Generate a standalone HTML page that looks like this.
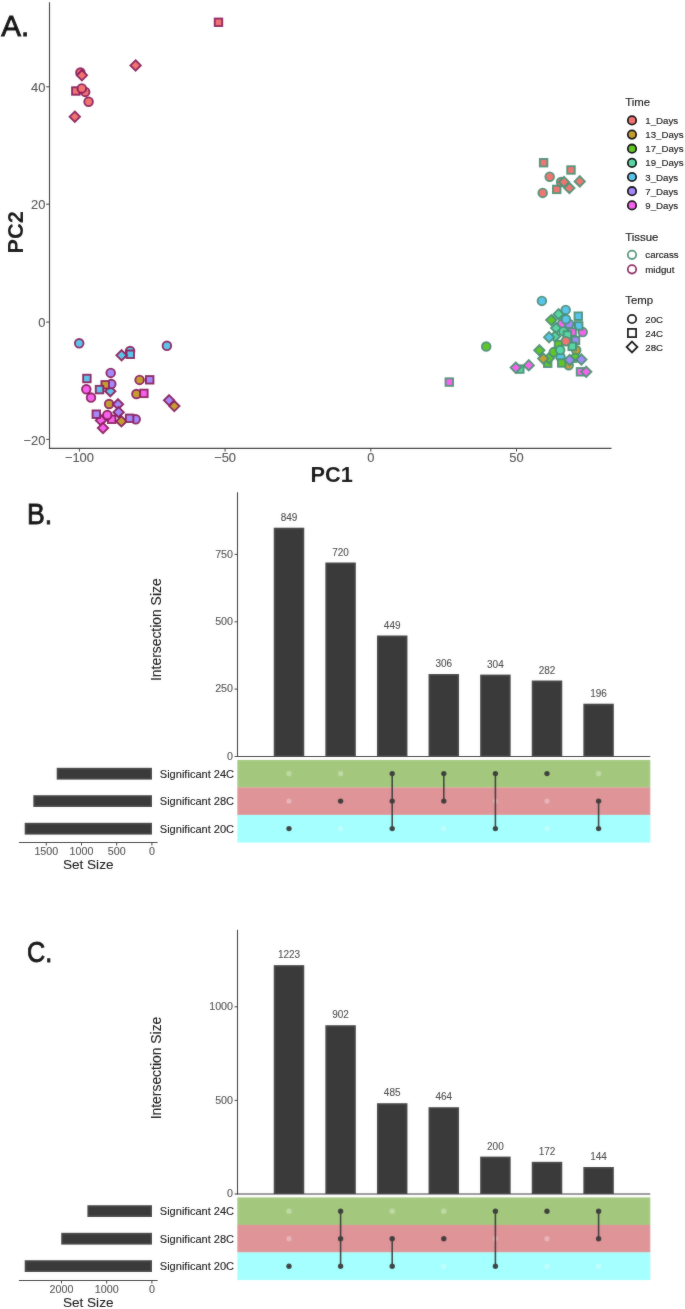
<!DOCTYPE html>
<html><head><meta charset="utf-8"><title>Figure</title>
<style>
html,body{margin:0;padding:0;background:#fff;}
#wrap{position:relative;}
.ov{position:absolute;left:0;top:0;}
text{opacity:0.995;}
body{width:685px;height:1309px;overflow:hidden;}
svg{display:block;font-family:"Liberation Sans",sans-serif;filter:brightness(1);}
.tk{font-size:12.9px;fill:#444;stroke:#444;stroke-width:0.1px;}
.ax{font-size:21.8px;font-weight:bold;fill:#000;}
.pl{font-size:30px;fill:#000;stroke:#000;stroke-width:0.9px;}
.lt{font-size:11.4px;fill:#000;stroke:#000;stroke-width:0.15px;}
.ll{font-size:9.7px;fill:#000;stroke:#000;stroke-width:0.15px;}
.ut{font-size:10.7px;fill:#444;stroke:#444;stroke-width:0.1px;}
.bl{font-size:10px;fill:#3A3A3A;stroke:#3A3A3A;stroke-width:0.08px;}
.is{font-size:13.9px;fill:#000;stroke:#000;stroke-width:0.1px;}
.sl{font-size:11.05px;fill:#000;stroke:#000;stroke-width:0.12px;}
.ss{font-size:13.6px;fill:#000;stroke:#000;stroke-width:0.1px;}
</style></head>
<body><div id="wrap">
<svg width="685" height="1309" viewBox="0 0 685 1309">
<g opacity="0.995"><rect width="685" height="1309" fill="#ffffff"/>
<line x1="49.5" y1="2.2" x2="49.5" y2="448.9" stroke="#2E2E2E" stroke-width="1.15"/>
<line x1="48.9" y1="448.4" x2="611.5" y2="448.4" stroke="#2E2E2E" stroke-width="1.1"/>
<line x1="46.2" y1="86.8" x2="49" y2="86.8" stroke="#333" stroke-width="1"/>
<text x="45.4" y="92.0" text-anchor="end" class="tk">40</text>
<line x1="46.2" y1="204.2" x2="49" y2="204.2" stroke="#333" stroke-width="1"/>
<text x="45.4" y="209.4" text-anchor="end" class="tk">20</text>
<line x1="46.2" y1="322.1" x2="49" y2="322.1" stroke="#333" stroke-width="1"/>
<text x="45.4" y="327.3" text-anchor="end" class="tk">0</text>
<line x1="46.2" y1="439.4" x2="49" y2="439.4" stroke="#333" stroke-width="1"/>
<text x="45.4" y="444.6" text-anchor="end" class="tk">−20</text>
<line x1="79.4" y1="448.5" x2="79.4" y2="451.6" stroke="#333" stroke-width="1"/>
<text x="79.4" y="461.8" text-anchor="middle" class="tk">−100</text>
<line x1="225.1" y1="448.5" x2="225.1" y2="451.6" stroke="#333" stroke-width="1"/>
<text x="225.1" y="461.8" text-anchor="middle" class="tk">−50</text>
<line x1="370.8" y1="448.5" x2="370.8" y2="451.6" stroke="#333" stroke-width="1"/>
<text x="370.8" y="461.8" text-anchor="middle" class="tk">0</text>
<line x1="516.5" y1="448.5" x2="516.5" y2="451.6" stroke="#333" stroke-width="1"/>
<text x="516.5" y="461.8" text-anchor="middle" class="tk">50</text>
<text x="331.7" y="482.3" text-anchor="middle" class="ax">PC1</text>
<text transform="translate(23.0 232.4) rotate(-90)" text-anchor="middle" class="ax">PC2</text>
<text x="1.2" y="36.0" class="pl" textLength="28" lengthAdjust="spacingAndGlyphs">A.</text>
<rect x="214.75" y="18.55" width="7.5" height="7.5" fill="#F27472" stroke="#8C1A5C" stroke-width="1.9"/>
<path d="M135.6 60.3L140.8 65.4L135.6 70.6L130.4 65.4Z" fill="#F27472" stroke="#8C1A5C" stroke-width="1.9" stroke-linejoin="miter"/>
<circle cx="80.4" cy="72.5" r="4.3" fill="#F27472" stroke="#8C1A5C" stroke-width="1.9"/>
<path d="M81.9 70.1L87.1 75.3L81.9 80.5L76.8 75.3Z" fill="#F27472" stroke="#8C1A5C" stroke-width="1.9" stroke-linejoin="miter"/>
<rect x="72.05" y="87.25" width="7.5" height="7.5" fill="#F27472" stroke="#8C1A5C" stroke-width="1.9"/>
<circle cx="85.2" cy="91.9" r="4.3" fill="#F27472" stroke="#8C1A5C" stroke-width="1.9"/>
<circle cx="81.8" cy="88.4" r="4.3" fill="#F27472" stroke="#8C1A5C" stroke-width="1.9"/>
<circle cx="88.6" cy="101.7" r="4.3" fill="#F27472" stroke="#8C1A5C" stroke-width="1.9"/>
<path d="M74.8 111.5L80.0 116.7L74.8 121.9L69.6 116.7Z" fill="#F27472" stroke="#8C1A5C" stroke-width="1.9" stroke-linejoin="miter"/>
<circle cx="79.2" cy="343.3" r="4.3" fill="#5BC6EC" stroke="#8C1A5C" stroke-width="1.9"/>
<circle cx="130.1" cy="351.0" r="4.3" fill="#5BC6EC" stroke="#8C1A5C" stroke-width="1.9"/>
<rect x="126.55" y="350.55" width="7.5" height="7.5" fill="#5BC6EC" stroke="#8C1A5C" stroke-width="1.9"/>
<path d="M121.6 350.2L126.8 355.3L121.6 360.4L116.4 355.3Z" fill="#5BC6EC" stroke="#8C1A5C" stroke-width="1.9" stroke-linejoin="miter"/>
<circle cx="166.9" cy="345.8" r="4.3" fill="#5BC6EC" stroke="#8C1A5C" stroke-width="1.9"/>
<circle cx="110.7" cy="372.9" r="4.3" fill="#A68AFB" stroke="#8C1A5C" stroke-width="1.9"/>
<rect x="83.15" y="374.75" width="7.5" height="7.5" fill="#5BC6EC" stroke="#8C1A5C" stroke-width="1.9"/>
<path d="M110.3 386.1L115.5 391.2L110.3 396.3L105.1 391.2Z" fill="#5BC6EC" stroke="#8C1A5C" stroke-width="1.9" stroke-linejoin="miter"/>
<circle cx="111.3" cy="384.0" r="4.3" fill="#A68AFB" stroke="#8C1A5C" stroke-width="1.9"/>
<rect x="101.45" y="381.05" width="7.5" height="7.5" fill="#C79F2E" stroke="#8C1A5C" stroke-width="1.9"/>
<rect x="95.75" y="385.85" width="7.5" height="7.5" fill="#5BC6EC" stroke="#8C1A5C" stroke-width="1.9"/>
<circle cx="86.3" cy="389.3" r="4.3" fill="#F862EE" stroke="#8C1A5C" stroke-width="1.9"/>
<circle cx="91.0" cy="397.6" r="4.3" fill="#F862EE" stroke="#8C1A5C" stroke-width="1.9"/>
<circle cx="139.6" cy="379.9" r="4.3" fill="#C79F2E" stroke="#8C1A5C" stroke-width="1.9"/>
<rect x="145.95" y="376.05" width="7.5" height="7.5" fill="#A68AFB" stroke="#8C1A5C" stroke-width="1.9"/>
<circle cx="136.4" cy="394.0" r="4.3" fill="#C79F2E" stroke="#8C1A5C" stroke-width="1.9"/>
<rect x="140.15" y="389.65" width="7.5" height="7.5" fill="#F862EE" stroke="#8C1A5C" stroke-width="1.9"/>
<path d="M169.1 395.2L174.2 400.3L169.1 405.4L163.9 400.3Z" fill="#A68AFB" stroke="#8C1A5C" stroke-width="1.9" stroke-linejoin="miter"/>
<path d="M174.3 401.0L179.5 406.1L174.3 411.2L169.2 406.1Z" fill="#C79F2E" stroke="#8C1A5C" stroke-width="1.9" stroke-linejoin="miter"/>
<circle cx="109.1" cy="404.0" r="4.3" fill="#C79F2E" stroke="#8C1A5C" stroke-width="1.9"/>
<path d="M118.0 399.2L123.2 404.3L118.0 409.4L112.8 404.3Z" fill="#A68AFB" stroke="#8C1A5C" stroke-width="1.9" stroke-linejoin="miter"/>
<path d="M118.6 407.1L123.8 412.2L118.6 417.3L113.4 412.2Z" fill="#A68AFB" stroke="#8C1A5C" stroke-width="1.9" stroke-linejoin="miter"/>
<path d="M101.0 415.2L106.2 420.4L101.0 425.5L95.8 420.4Z" fill="#F862EE" stroke="#8C1A5C" stroke-width="1.9" stroke-linejoin="miter"/>
<rect x="92.55" y="410.45" width="7.5" height="7.5" fill="#A68AFB" stroke="#8C1A5C" stroke-width="1.9"/>
<rect x="107.95" y="415.55" width="7.5" height="7.5" fill="#F862EE" stroke="#8C1A5C" stroke-width="1.9"/>
<circle cx="107.3" cy="415.0" r="4.3" fill="#F862EE" stroke="#8C1A5C" stroke-width="1.9"/>
<path d="M121.4 416.2L126.6 421.4L121.4 426.5L116.2 421.4Z" fill="#C79F2E" stroke="#8C1A5C" stroke-width="1.9" stroke-linejoin="miter"/>
<circle cx="135.7" cy="419.3" r="4.3" fill="#A68AFB" stroke="#8C1A5C" stroke-width="1.9"/>
<rect x="125.85" y="414.55" width="7.5" height="7.5" fill="#A68AFB" stroke="#8C1A5C" stroke-width="1.9"/>
<path d="M103.0 422.9L108.2 428.0L103.0 433.1L97.8 428.0Z" fill="#F862EE" stroke="#8C1A5C" stroke-width="1.9" stroke-linejoin="miter"/>
<rect x="539.85" y="158.95" width="7.5" height="7.5" fill="#F27472" stroke="#4A9176" stroke-width="1.9"/>
<rect x="567.25" y="166.25" width="7.5" height="7.5" fill="#F27472" stroke="#4A9176" stroke-width="1.9"/>
<circle cx="549.7" cy="176.7" r="4.3" fill="#F27472" stroke="#4A9176" stroke-width="1.9"/>
<circle cx="542.7" cy="192.9" r="4.3" fill="#F27472" stroke="#4A9176" stroke-width="1.9"/>
<rect x="552.95" y="185.65" width="7.5" height="7.5" fill="#F27472" stroke="#4A9176" stroke-width="1.9"/>
<circle cx="561.1" cy="182.0" r="4.3" fill="#F27472" stroke="#4A9176" stroke-width="1.9"/>
<path d="M564.0 176.8L569.1 182.0L564.0 187.2L558.9 182.0Z" fill="#F27472" stroke="#4A9176" stroke-width="1.9" stroke-linejoin="miter"/>
<path d="M569.4 182.9L574.5 188.1L569.4 193.2L564.2 188.1Z" fill="#F27472" stroke="#4A9176" stroke-width="1.9" stroke-linejoin="miter"/>
<path d="M579.8 176.2L584.9 181.4L579.8 186.6L574.6 181.4Z" fill="#F27472" stroke="#4A9176" stroke-width="1.9" stroke-linejoin="miter"/>
<rect x="445.55" y="378.35" width="7.5" height="7.5" fill="#F862EE" stroke="#4A9176" stroke-width="1.9"/>
<circle cx="486.2" cy="346.5" r="4.3" fill="#63C724" stroke="#4A9176" stroke-width="1.9"/>
<circle cx="541.9" cy="300.9" r="4.3" fill="#5BC6EC" stroke="#4A9176" stroke-width="1.9"/>
<rect x="516.05" y="365.35" width="7.5" height="7.5" fill="#5AD6A6" stroke="#4A9176" stroke-width="1.9"/>
<path d="M515.7 362.5L520.9 367.6L515.7 372.8L510.6 367.6Z" fill="#F862EE" stroke="#4A9176" stroke-width="1.9" stroke-linejoin="miter"/>
<path d="M528.8 360.2L533.9 365.4L528.8 370.5L523.6 365.4Z" fill="#F862EE" stroke="#4A9176" stroke-width="1.9" stroke-linejoin="miter"/>
<rect x="554.75" y="340.75" width="7.5" height="7.5" fill="#63C724" stroke="#4A9176" stroke-width="1.9"/>
<rect x="543.95" y="359.55" width="7.5" height="7.5" fill="#63C724" stroke="#4A9176" stroke-width="1.9"/>
<circle cx="561.9" cy="324.1" r="4.3" fill="#F862EE" stroke="#4A9176" stroke-width="1.9"/>
<circle cx="569.2" cy="324.1" r="4.3" fill="#A68AFB" stroke="#4A9176" stroke-width="1.9"/>
<path d="M558.6 309.1L563.8 314.2L558.6 319.3L553.5 314.2Z" fill="#5AD6A6" stroke="#4A9176" stroke-width="1.9" stroke-linejoin="miter"/>
<circle cx="565.7" cy="309.9" r="4.3" fill="#5BC6EC" stroke="#4A9176" stroke-width="1.9"/>
<path d="M551.3 315.0L556.4 320.1L551.3 325.2L546.1 320.1Z" fill="#63C724" stroke="#4A9176" stroke-width="1.9" stroke-linejoin="miter"/>
<circle cx="565.9" cy="319.3" r="4.3" fill="#5BC6EC" stroke="#4A9176" stroke-width="1.9"/>
<circle cx="582.7" cy="332.1" r="4.3" fill="#F862EE" stroke="#4A9176" stroke-width="1.9"/>
<rect x="574.55" y="312.45" width="7.5" height="7.5" fill="#5BC6EC" stroke="#4A9176" stroke-width="1.9"/>
<rect x="574.95" y="322.15" width="7.5" height="7.5" fill="#5BC6EC" stroke="#4A9176" stroke-width="1.9"/>
<rect x="568.35" y="328.35" width="7.5" height="7.5" fill="#F862EE" stroke="#4A9176" stroke-width="1.9"/>
<path d="M556.1 323.0L561.2 328.1L556.1 333.2L551.0 328.1Z" fill="#5AD6A6" stroke="#4A9176" stroke-width="1.9" stroke-linejoin="miter"/>
<circle cx="563.4" cy="331.4" r="4.3" fill="#5AD6A6" stroke="#4A9176" stroke-width="1.9"/>
<path d="M555.0 331.4L560.1 336.5L555.0 341.6L549.9 336.5Z" fill="#5AD6A6" stroke="#4A9176" stroke-width="1.9" stroke-linejoin="miter"/>
<path d="M549.1 332.1L554.2 337.2L549.1 342.3L544.0 337.2Z" fill="#5BC6EC" stroke="#4A9176" stroke-width="1.9" stroke-linejoin="miter"/>
<circle cx="576.2" cy="350.3" r="4.3" fill="#C79F2E" stroke="#4A9176" stroke-width="1.9"/>
<circle cx="568.7" cy="365.2" r="4.3" fill="#C79F2E" stroke="#4A9176" stroke-width="1.9"/>
<circle cx="560.5" cy="357.0" r="4.3" fill="#5BC6EC" stroke="#4A9176" stroke-width="1.9"/>
<rect x="563.65" y="331.25" width="7.5" height="7.5" fill="#5AD6A6" stroke="#4A9176" stroke-width="1.9"/>
<rect x="571.75" y="336.65" width="7.5" height="7.5" fill="#A68AFB" stroke="#4A9176" stroke-width="1.9"/>
<rect x="568.45" y="342.65" width="7.5" height="7.5" fill="#5AD6A6" stroke="#4A9176" stroke-width="1.9"/>
<circle cx="565.8" cy="341.2" r="4.3" fill="#F27472" stroke="#4A9176" stroke-width="1.9"/>
<path d="M539.4 345.2L544.5 350.3L539.4 355.4L534.2 350.3Z" fill="#63C724" stroke="#4A9176" stroke-width="1.9" stroke-linejoin="miter"/>
<path d="M549.0 353.1L554.1 358.2L549.0 363.3L543.9 358.2Z" fill="#63C724" stroke="#4A9176" stroke-width="1.9" stroke-linejoin="miter"/>
<path d="M543.3 353.5L548.4 358.6L543.3 363.8L538.1 358.6Z" fill="#C79F2E" stroke="#4A9176" stroke-width="1.9" stroke-linejoin="miter"/>
<circle cx="553.8" cy="352.1" r="4.3" fill="#63C724" stroke="#4A9176" stroke-width="1.9"/>
<circle cx="560.2" cy="350.1" r="4.3" fill="#5AD6A6" stroke="#4A9176" stroke-width="1.9"/>
<circle cx="575.3" cy="357.8" r="4.3" fill="#63C724" stroke="#4A9176" stroke-width="1.9"/>
<rect x="557.95" y="359.25" width="7.5" height="7.5" fill="#63C724" stroke="#4A9176" stroke-width="1.9"/>
<path d="M581.4 354.4L586.5 359.5L581.4 364.6L576.2 359.5Z" fill="#A68AFB" stroke="#4A9176" stroke-width="1.9" stroke-linejoin="miter"/>
<path d="M569.6 354.9L574.8 360.0L569.6 365.1L564.5 360.0Z" fill="#A68AFB" stroke="#4A9176" stroke-width="1.9" stroke-linejoin="miter"/>
<rect x="576.75" y="368.05" width="7.5" height="7.5" fill="#F862EE" stroke="#4A9176" stroke-width="1.9"/>
<path d="M586.2 366.7L591.4 371.8L586.2 376.9L581.1 371.8Z" fill="#F862EE" stroke="#4A9176" stroke-width="1.9" stroke-linejoin="miter"/>
<text x="625.3" y="105.8" class="lt">Time</text>
<circle cx="632" cy="120.4" r="4.2" fill="#F27472" stroke="#000" stroke-width="1.8"/>
<text x="645.3" y="123.9" class="ll">1_Days</text>
<circle cx="632" cy="134.6" r="4.2" fill="#C79F2E" stroke="#000" stroke-width="1.8"/>
<text x="645.3" y="138.1" class="ll">13_Days</text>
<circle cx="632" cy="148.7" r="4.2" fill="#63C724" stroke="#000" stroke-width="1.8"/>
<text x="645.3" y="152.2" class="ll">17_Days</text>
<circle cx="632" cy="162.9" r="4.2" fill="#5AD6A6" stroke="#000" stroke-width="1.8"/>
<text x="645.3" y="166.4" class="ll">19_Days</text>
<circle cx="632" cy="177.0" r="4.2" fill="#5BC6EC" stroke="#000" stroke-width="1.8"/>
<text x="645.3" y="180.5" class="ll">3_Days</text>
<circle cx="632" cy="191.2" r="4.2" fill="#A68AFB" stroke="#000" stroke-width="1.8"/>
<text x="645.3" y="194.7" class="ll">7_Days</text>
<circle cx="632" cy="205.4" r="4.2" fill="#F862EE" stroke="#000" stroke-width="1.8"/>
<text x="645.3" y="208.9" class="ll">9_Days</text>
<text x="625.3" y="240.9" class="lt">Tissue</text>
<circle cx="632" cy="254.8" r="4.2" fill="none" stroke="#4A9176" stroke-width="1.8"/>
<text x="645.3" y="258.3" class="ll">carcass</text>
<circle cx="632" cy="269.3" r="4.2" fill="none" stroke="#8C1A5C" stroke-width="1.8"/>
<text x="645.3" y="272.8" class="ll">midgut</text>
<text x="625.3" y="303.8" class="lt">Temp</text>
<circle cx="632" cy="319.0" r="4.2" fill="none" stroke="#000" stroke-width="1.8"/>
<text x="645.3" y="322.5" class="ll">20C</text>
<rect x="627.9" y="328.9" width="8.2" height="8.2" fill="none" stroke="#000" stroke-width="1.8"/>
<text x="645.3" y="336.5" class="ll">24C</text>
<path d="M632 341.6L637.4 347.0L632 352.4L626.6 347.0Z" fill="none" stroke="#000" stroke-width="1.8"/>
<text x="645.3" y="350.5" class="ll">28C</text>
<text x="27.0" y="524.2" class="pl" textLength="25.2" lengthAdjust="spacingAndGlyphs">B.</text>
<line x1="237.5" y1="492.2" x2="237.5" y2="757.0" stroke="#2E2E2E" stroke-width="1.1"/>
<line x1="236.9" y1="756.5" x2="650.3" y2="756.5" stroke="#2E2E2E" stroke-width="1.1"/>
<line x1="234.6" y1="756.5" x2="237.4" y2="756.5" stroke="#333" stroke-width="1"/>
<text x="233" y="759.8" text-anchor="end" class="ut">0</text>
<line x1="234.6" y1="689.1" x2="237.4" y2="689.1" stroke="#333" stroke-width="1"/>
<text x="233" y="692.4" text-anchor="end" class="ut">250</text>
<line x1="234.6" y1="621.8" x2="237.4" y2="621.8" stroke="#333" stroke-width="1"/>
<text x="233" y="625.0" text-anchor="end" class="ut">500</text>
<line x1="234.6" y1="554.4" x2="237.4" y2="554.4" stroke="#333" stroke-width="1"/>
<text x="233" y="557.7" text-anchor="end" class="ut">750</text>
<text transform="translate(161.2 629.7) rotate(-90)" text-anchor="middle" class="is">Intersection Size</text>
<rect x="273.75" y="527.7" width="30.5" height="228.8" fill="#3B3B3B"/>
<text x="289.0" y="520.7" text-anchor="middle" class="bl">849</text>
<rect x="325.35" y="562.5" width="30.5" height="194.0" fill="#3B3B3B"/>
<text x="340.6" y="555.5" text-anchor="middle" class="bl">720</text>
<rect x="376.95" y="635.5" width="30.5" height="121.0" fill="#3B3B3B"/>
<text x="392.2" y="628.5" text-anchor="middle" class="bl">449</text>
<rect x="428.55" y="674.0" width="30.5" height="82.5" fill="#3B3B3B"/>
<text x="443.8" y="667.0" text-anchor="middle" class="bl">306</text>
<rect x="480.15" y="674.6" width="30.5" height="81.9" fill="#3B3B3B"/>
<text x="495.4" y="667.6" text-anchor="middle" class="bl">304</text>
<rect x="531.75" y="680.5" width="30.5" height="76.0" fill="#3B3B3B"/>
<text x="547.0" y="673.5" text-anchor="middle" class="bl">282</text>
<rect x="583.35" y="703.7" width="30.5" height="52.8" fill="#3B3B3B"/>
<text x="598.6" y="696.7" text-anchor="middle" class="bl">196</text>
<rect x="237.3" y="759.9" width="413" height="27.7" fill="#A4C97E"/>
<rect x="237.3" y="787.4" width="413" height="27.7" fill="#DF9498"/>
<rect x="237.3" y="814.9" width="413" height="27.7" fill="#A5FFFE"/>
<circle cx="289.0" cy="773.6" r="2.6" fill="#ffffff" fill-opacity="0.3"/>
<circle cx="289.0" cy="801.1" r="2.6" fill="#ffffff" fill-opacity="0.3"/>
<circle cx="289.0" cy="828.6" r="2.7" fill="#3B3B3B"/>
<circle cx="340.6" cy="773.6" r="2.6" fill="#ffffff" fill-opacity="0.3"/>
<circle cx="340.6" cy="828.6" r="2.6" fill="#ffffff" fill-opacity="0.3"/>
<circle cx="340.6" cy="801.1" r="2.7" fill="#3B3B3B"/>
<line x1="392.2" y1="773.6" x2="392.2" y2="828.6" stroke="#3B3B3B" stroke-width="1.6"/>
<circle cx="392.2" cy="773.6" r="2.7" fill="#3B3B3B"/>
<circle cx="392.2" cy="801.1" r="2.7" fill="#3B3B3B"/>
<circle cx="392.2" cy="828.6" r="2.7" fill="#3B3B3B"/>
<circle cx="443.8" cy="828.6" r="2.6" fill="#ffffff" fill-opacity="0.3"/>
<line x1="443.8" y1="773.6" x2="443.8" y2="801.1" stroke="#3B3B3B" stroke-width="1.6"/>
<circle cx="443.8" cy="773.6" r="2.7" fill="#3B3B3B"/>
<circle cx="443.8" cy="801.1" r="2.7" fill="#3B3B3B"/>
<circle cx="495.4" cy="801.1" r="2.6" fill="#ffffff" fill-opacity="0.3"/>
<line x1="495.4" y1="773.6" x2="495.4" y2="828.6" stroke="#3B3B3B" stroke-width="1.6"/>
<circle cx="495.4" cy="773.6" r="2.7" fill="#3B3B3B"/>
<circle cx="495.4" cy="828.6" r="2.7" fill="#3B3B3B"/>
<circle cx="547.0" cy="801.1" r="2.6" fill="#ffffff" fill-opacity="0.3"/>
<circle cx="547.0" cy="828.6" r="2.6" fill="#ffffff" fill-opacity="0.3"/>
<circle cx="547.0" cy="773.6" r="2.7" fill="#3B3B3B"/>
<circle cx="598.6" cy="773.6" r="2.6" fill="#ffffff" fill-opacity="0.3"/>
<line x1="598.6" y1="801.1" x2="598.6" y2="828.6" stroke="#3B3B3B" stroke-width="1.6"/>
<circle cx="598.6" cy="801.1" r="2.7" fill="#3B3B3B"/>
<circle cx="598.6" cy="828.6" r="2.7" fill="#3B3B3B"/>
<text x="159.8" y="777.5" class="sl">Significant 24C</text>
<rect x="56.7" y="767.8" width="95.3" height="11.8" fill="#3B3B3B"/>
<text x="159.8" y="805.0" class="sl">Significant 28C</text>
<rect x="33.3" y="795.2" width="118.7" height="11.8" fill="#3B3B3B"/>
<text x="159.8" y="832.5" class="sl">Significant 20C</text>
<rect x="24.7" y="822.8" width="127.3" height="11.8" fill="#3B3B3B"/>
<line x1="18.9" y1="842.5" x2="157.6" y2="842.5" stroke="#2E2E2E" stroke-width="1.1"/>
<line x1="151.9" y1="842.5" x2="151.9" y2="845.5" stroke="#333" stroke-width="1"/>
<text x="151.9" y="854.7" text-anchor="middle" class="ut">0</text>
<line x1="116.7" y1="842.5" x2="116.7" y2="845.5" stroke="#333" stroke-width="1"/>
<text x="116.7" y="854.7" text-anchor="middle" class="ut">500</text>
<line x1="81.5" y1="842.5" x2="81.5" y2="845.5" stroke="#333" stroke-width="1"/>
<text x="81.5" y="854.7" text-anchor="middle" class="ut">1000</text>
<line x1="46.3" y1="842.5" x2="46.3" y2="845.5" stroke="#333" stroke-width="1"/>
<text x="46.3" y="854.7" text-anchor="middle" class="ut">1500</text>
<text x="88.2" y="869.1" text-anchor="middle" class="ss">Set Size</text>
<text x="27.0" y="962.4" class="pl" textLength="25.2" lengthAdjust="spacingAndGlyphs">C.</text>
<line x1="237.5" y1="929.8" x2="237.5" y2="1194.5" stroke="#2E2E2E" stroke-width="1.1"/>
<line x1="236.9" y1="1194.0" x2="650.3" y2="1194.0" stroke="#2E2E2E" stroke-width="1.1"/>
<line x1="234.6" y1="1194.0" x2="237.4" y2="1194.0" stroke="#333" stroke-width="1"/>
<text x="233" y="1197.3" text-anchor="end" class="ut">0</text>
<line x1="234.6" y1="1100.4" x2="237.4" y2="1100.4" stroke="#333" stroke-width="1"/>
<text x="233" y="1103.7" text-anchor="end" class="ut">500</text>
<line x1="234.6" y1="1006.8" x2="237.4" y2="1006.8" stroke="#333" stroke-width="1"/>
<text x="233" y="1010.1" text-anchor="end" class="ut">1000</text>
<text transform="translate(161.2 1068.0) rotate(-90)" text-anchor="middle" class="is">Intersection Size</text>
<rect x="273.75" y="965.1" width="30.5" height="228.9" fill="#3B3B3B"/>
<text x="289.0" y="958.1" text-anchor="middle" class="bl">1223</text>
<rect x="325.35" y="1025.2" width="30.5" height="168.8" fill="#3B3B3B"/>
<text x="340.6" y="1018.2" text-anchor="middle" class="bl">902</text>
<rect x="376.95" y="1103.2" width="30.5" height="90.8" fill="#3B3B3B"/>
<text x="392.2" y="1096.2" text-anchor="middle" class="bl">485</text>
<rect x="428.55" y="1107.2" width="30.5" height="86.8" fill="#3B3B3B"/>
<text x="443.8" y="1100.2" text-anchor="middle" class="bl">464</text>
<rect x="480.15" y="1156.6" width="30.5" height="37.4" fill="#3B3B3B"/>
<text x="495.4" y="1149.6" text-anchor="middle" class="bl">200</text>
<rect x="531.75" y="1161.8" width="30.5" height="32.2" fill="#3B3B3B"/>
<text x="547.0" y="1154.8" text-anchor="middle" class="bl">172</text>
<rect x="583.35" y="1167.0" width="30.5" height="27.0" fill="#3B3B3B"/>
<text x="598.6" y="1160.0" text-anchor="middle" class="bl">144</text>
<rect x="237.3" y="1197.4" width="413" height="27.7" fill="#A4C97E"/>
<rect x="237.3" y="1224.9" width="413" height="27.7" fill="#DF9498"/>
<rect x="237.3" y="1252.4" width="413" height="27.7" fill="#A5FFFE"/>
<circle cx="289.0" cy="1211.2" r="2.6" fill="#ffffff" fill-opacity="0.3"/>
<circle cx="289.0" cy="1238.7" r="2.6" fill="#ffffff" fill-opacity="0.3"/>
<circle cx="289.0" cy="1266.2" r="2.7" fill="#3B3B3B"/>
<line x1="340.6" y1="1211.2" x2="340.6" y2="1266.2" stroke="#3B3B3B" stroke-width="1.6"/>
<circle cx="340.6" cy="1211.2" r="2.7" fill="#3B3B3B"/>
<circle cx="340.6" cy="1238.7" r="2.7" fill="#3B3B3B"/>
<circle cx="340.6" cy="1266.2" r="2.7" fill="#3B3B3B"/>
<circle cx="392.2" cy="1211.2" r="2.6" fill="#ffffff" fill-opacity="0.3"/>
<line x1="392.2" y1="1238.7" x2="392.2" y2="1266.2" stroke="#3B3B3B" stroke-width="1.6"/>
<circle cx="392.2" cy="1238.7" r="2.7" fill="#3B3B3B"/>
<circle cx="392.2" cy="1266.2" r="2.7" fill="#3B3B3B"/>
<circle cx="443.8" cy="1211.2" r="2.6" fill="#ffffff" fill-opacity="0.3"/>
<circle cx="443.8" cy="1266.2" r="2.6" fill="#ffffff" fill-opacity="0.3"/>
<circle cx="443.8" cy="1238.7" r="2.7" fill="#3B3B3B"/>
<circle cx="495.4" cy="1238.7" r="2.6" fill="#ffffff" fill-opacity="0.3"/>
<line x1="495.4" y1="1211.2" x2="495.4" y2="1266.2" stroke="#3B3B3B" stroke-width="1.6"/>
<circle cx="495.4" cy="1211.2" r="2.7" fill="#3B3B3B"/>
<circle cx="495.4" cy="1266.2" r="2.7" fill="#3B3B3B"/>
<circle cx="547.0" cy="1238.7" r="2.6" fill="#ffffff" fill-opacity="0.3"/>
<circle cx="547.0" cy="1266.2" r="2.6" fill="#ffffff" fill-opacity="0.3"/>
<circle cx="547.0" cy="1211.2" r="2.7" fill="#3B3B3B"/>
<circle cx="598.6" cy="1266.2" r="2.6" fill="#ffffff" fill-opacity="0.3"/>
<line x1="598.6" y1="1211.2" x2="598.6" y2="1238.7" stroke="#3B3B3B" stroke-width="1.6"/>
<circle cx="598.6" cy="1211.2" r="2.7" fill="#3B3B3B"/>
<circle cx="598.6" cy="1238.7" r="2.7" fill="#3B3B3B"/>
<text x="159.8" y="1215.1" class="sl">Significant 24C</text>
<rect x="87.4" y="1205.2" width="64.6" height="11.8" fill="#3B3B3B"/>
<text x="159.8" y="1242.6" class="sl">Significant 28C</text>
<rect x="61.2" y="1232.8" width="90.8" height="11.8" fill="#3B3B3B"/>
<text x="159.8" y="1270.1" class="sl">Significant 20C</text>
<rect x="24.7" y="1260.2" width="127.3" height="11.8" fill="#3B3B3B"/>
<line x1="18.9" y1="1280.5" x2="157.6" y2="1280.5" stroke="#2E2E2E" stroke-width="1.1"/>
<line x1="151.9" y1="1280.5" x2="151.9" y2="1283.5" stroke="#333" stroke-width="1"/>
<text x="151.9" y="1292.7" text-anchor="middle" class="ut">0</text>
<line x1="106.7" y1="1280.5" x2="106.7" y2="1283.5" stroke="#333" stroke-width="1"/>
<text x="106.7" y="1292.7" text-anchor="middle" class="ut">1000</text>
<line x1="61.5" y1="1280.5" x2="61.5" y2="1283.5" stroke="#333" stroke-width="1"/>
<text x="61.5" y="1292.7" text-anchor="middle" class="ut">2000</text>
<text x="88.2" y="1307.1" text-anchor="middle" class="ss">Set Size</text></g>
</svg>
<svg class="ov" width="685" height="1309" viewBox="0 0 685 1309" style="opacity:0.35">
<defs><filter id="bl" x="0" y="0" width="1" height="1"><feGaussianBlur stdDeviation="0.9"/></filter></defs>
<g filter="url(#bl)"><g opacity="0.995"><rect width="685" height="1309" fill="#ffffff"/>
<line x1="49.5" y1="2.2" x2="49.5" y2="448.9" stroke="#2E2E2E" stroke-width="1.15"/>
<line x1="48.9" y1="448.4" x2="611.5" y2="448.4" stroke="#2E2E2E" stroke-width="1.1"/>
<line x1="46.2" y1="86.8" x2="49" y2="86.8" stroke="#333" stroke-width="1"/>
<text x="45.4" y="92.0" text-anchor="end" class="tk">40</text>
<line x1="46.2" y1="204.2" x2="49" y2="204.2" stroke="#333" stroke-width="1"/>
<text x="45.4" y="209.4" text-anchor="end" class="tk">20</text>
<line x1="46.2" y1="322.1" x2="49" y2="322.1" stroke="#333" stroke-width="1"/>
<text x="45.4" y="327.3" text-anchor="end" class="tk">0</text>
<line x1="46.2" y1="439.4" x2="49" y2="439.4" stroke="#333" stroke-width="1"/>
<text x="45.4" y="444.6" text-anchor="end" class="tk">−20</text>
<line x1="79.4" y1="448.5" x2="79.4" y2="451.6" stroke="#333" stroke-width="1"/>
<text x="79.4" y="461.8" text-anchor="middle" class="tk">−100</text>
<line x1="225.1" y1="448.5" x2="225.1" y2="451.6" stroke="#333" stroke-width="1"/>
<text x="225.1" y="461.8" text-anchor="middle" class="tk">−50</text>
<line x1="370.8" y1="448.5" x2="370.8" y2="451.6" stroke="#333" stroke-width="1"/>
<text x="370.8" y="461.8" text-anchor="middle" class="tk">0</text>
<line x1="516.5" y1="448.5" x2="516.5" y2="451.6" stroke="#333" stroke-width="1"/>
<text x="516.5" y="461.8" text-anchor="middle" class="tk">50</text>
<text x="331.7" y="482.3" text-anchor="middle" class="ax">PC1</text>
<text transform="translate(23.0 232.4) rotate(-90)" text-anchor="middle" class="ax">PC2</text>
<text x="1.2" y="36.0" class="pl" textLength="28" lengthAdjust="spacingAndGlyphs">A.</text>
<rect x="214.75" y="18.55" width="7.5" height="7.5" fill="#F27472" stroke="#8C1A5C" stroke-width="1.9"/>
<path d="M135.6 60.3L140.8 65.4L135.6 70.6L130.4 65.4Z" fill="#F27472" stroke="#8C1A5C" stroke-width="1.9" stroke-linejoin="miter"/>
<circle cx="80.4" cy="72.5" r="4.3" fill="#F27472" stroke="#8C1A5C" stroke-width="1.9"/>
<path d="M81.9 70.1L87.1 75.3L81.9 80.5L76.8 75.3Z" fill="#F27472" stroke="#8C1A5C" stroke-width="1.9" stroke-linejoin="miter"/>
<rect x="72.05" y="87.25" width="7.5" height="7.5" fill="#F27472" stroke="#8C1A5C" stroke-width="1.9"/>
<circle cx="85.2" cy="91.9" r="4.3" fill="#F27472" stroke="#8C1A5C" stroke-width="1.9"/>
<circle cx="81.8" cy="88.4" r="4.3" fill="#F27472" stroke="#8C1A5C" stroke-width="1.9"/>
<circle cx="88.6" cy="101.7" r="4.3" fill="#F27472" stroke="#8C1A5C" stroke-width="1.9"/>
<path d="M74.8 111.5L80.0 116.7L74.8 121.9L69.6 116.7Z" fill="#F27472" stroke="#8C1A5C" stroke-width="1.9" stroke-linejoin="miter"/>
<circle cx="79.2" cy="343.3" r="4.3" fill="#5BC6EC" stroke="#8C1A5C" stroke-width="1.9"/>
<circle cx="130.1" cy="351.0" r="4.3" fill="#5BC6EC" stroke="#8C1A5C" stroke-width="1.9"/>
<rect x="126.55" y="350.55" width="7.5" height="7.5" fill="#5BC6EC" stroke="#8C1A5C" stroke-width="1.9"/>
<path d="M121.6 350.2L126.8 355.3L121.6 360.4L116.4 355.3Z" fill="#5BC6EC" stroke="#8C1A5C" stroke-width="1.9" stroke-linejoin="miter"/>
<circle cx="166.9" cy="345.8" r="4.3" fill="#5BC6EC" stroke="#8C1A5C" stroke-width="1.9"/>
<circle cx="110.7" cy="372.9" r="4.3" fill="#A68AFB" stroke="#8C1A5C" stroke-width="1.9"/>
<rect x="83.15" y="374.75" width="7.5" height="7.5" fill="#5BC6EC" stroke="#8C1A5C" stroke-width="1.9"/>
<path d="M110.3 386.1L115.5 391.2L110.3 396.3L105.1 391.2Z" fill="#5BC6EC" stroke="#8C1A5C" stroke-width="1.9" stroke-linejoin="miter"/>
<circle cx="111.3" cy="384.0" r="4.3" fill="#A68AFB" stroke="#8C1A5C" stroke-width="1.9"/>
<rect x="101.45" y="381.05" width="7.5" height="7.5" fill="#C79F2E" stroke="#8C1A5C" stroke-width="1.9"/>
<rect x="95.75" y="385.85" width="7.5" height="7.5" fill="#5BC6EC" stroke="#8C1A5C" stroke-width="1.9"/>
<circle cx="86.3" cy="389.3" r="4.3" fill="#F862EE" stroke="#8C1A5C" stroke-width="1.9"/>
<circle cx="91.0" cy="397.6" r="4.3" fill="#F862EE" stroke="#8C1A5C" stroke-width="1.9"/>
<circle cx="139.6" cy="379.9" r="4.3" fill="#C79F2E" stroke="#8C1A5C" stroke-width="1.9"/>
<rect x="145.95" y="376.05" width="7.5" height="7.5" fill="#A68AFB" stroke="#8C1A5C" stroke-width="1.9"/>
<circle cx="136.4" cy="394.0" r="4.3" fill="#C79F2E" stroke="#8C1A5C" stroke-width="1.9"/>
<rect x="140.15" y="389.65" width="7.5" height="7.5" fill="#F862EE" stroke="#8C1A5C" stroke-width="1.9"/>
<path d="M169.1 395.2L174.2 400.3L169.1 405.4L163.9 400.3Z" fill="#A68AFB" stroke="#8C1A5C" stroke-width="1.9" stroke-linejoin="miter"/>
<path d="M174.3 401.0L179.5 406.1L174.3 411.2L169.2 406.1Z" fill="#C79F2E" stroke="#8C1A5C" stroke-width="1.9" stroke-linejoin="miter"/>
<circle cx="109.1" cy="404.0" r="4.3" fill="#C79F2E" stroke="#8C1A5C" stroke-width="1.9"/>
<path d="M118.0 399.2L123.2 404.3L118.0 409.4L112.8 404.3Z" fill="#A68AFB" stroke="#8C1A5C" stroke-width="1.9" stroke-linejoin="miter"/>
<path d="M118.6 407.1L123.8 412.2L118.6 417.3L113.4 412.2Z" fill="#A68AFB" stroke="#8C1A5C" stroke-width="1.9" stroke-linejoin="miter"/>
<path d="M101.0 415.2L106.2 420.4L101.0 425.5L95.8 420.4Z" fill="#F862EE" stroke="#8C1A5C" stroke-width="1.9" stroke-linejoin="miter"/>
<rect x="92.55" y="410.45" width="7.5" height="7.5" fill="#A68AFB" stroke="#8C1A5C" stroke-width="1.9"/>
<rect x="107.95" y="415.55" width="7.5" height="7.5" fill="#F862EE" stroke="#8C1A5C" stroke-width="1.9"/>
<circle cx="107.3" cy="415.0" r="4.3" fill="#F862EE" stroke="#8C1A5C" stroke-width="1.9"/>
<path d="M121.4 416.2L126.6 421.4L121.4 426.5L116.2 421.4Z" fill="#C79F2E" stroke="#8C1A5C" stroke-width="1.9" stroke-linejoin="miter"/>
<circle cx="135.7" cy="419.3" r="4.3" fill="#A68AFB" stroke="#8C1A5C" stroke-width="1.9"/>
<rect x="125.85" y="414.55" width="7.5" height="7.5" fill="#A68AFB" stroke="#8C1A5C" stroke-width="1.9"/>
<path d="M103.0 422.9L108.2 428.0L103.0 433.1L97.8 428.0Z" fill="#F862EE" stroke="#8C1A5C" stroke-width="1.9" stroke-linejoin="miter"/>
<rect x="539.85" y="158.95" width="7.5" height="7.5" fill="#F27472" stroke="#4A9176" stroke-width="1.9"/>
<rect x="567.25" y="166.25" width="7.5" height="7.5" fill="#F27472" stroke="#4A9176" stroke-width="1.9"/>
<circle cx="549.7" cy="176.7" r="4.3" fill="#F27472" stroke="#4A9176" stroke-width="1.9"/>
<circle cx="542.7" cy="192.9" r="4.3" fill="#F27472" stroke="#4A9176" stroke-width="1.9"/>
<rect x="552.95" y="185.65" width="7.5" height="7.5" fill="#F27472" stroke="#4A9176" stroke-width="1.9"/>
<circle cx="561.1" cy="182.0" r="4.3" fill="#F27472" stroke="#4A9176" stroke-width="1.9"/>
<path d="M564.0 176.8L569.1 182.0L564.0 187.2L558.9 182.0Z" fill="#F27472" stroke="#4A9176" stroke-width="1.9" stroke-linejoin="miter"/>
<path d="M569.4 182.9L574.5 188.1L569.4 193.2L564.2 188.1Z" fill="#F27472" stroke="#4A9176" stroke-width="1.9" stroke-linejoin="miter"/>
<path d="M579.8 176.2L584.9 181.4L579.8 186.6L574.6 181.4Z" fill="#F27472" stroke="#4A9176" stroke-width="1.9" stroke-linejoin="miter"/>
<rect x="445.55" y="378.35" width="7.5" height="7.5" fill="#F862EE" stroke="#4A9176" stroke-width="1.9"/>
<circle cx="486.2" cy="346.5" r="4.3" fill="#63C724" stroke="#4A9176" stroke-width="1.9"/>
<circle cx="541.9" cy="300.9" r="4.3" fill="#5BC6EC" stroke="#4A9176" stroke-width="1.9"/>
<rect x="516.05" y="365.35" width="7.5" height="7.5" fill="#5AD6A6" stroke="#4A9176" stroke-width="1.9"/>
<path d="M515.7 362.5L520.9 367.6L515.7 372.8L510.6 367.6Z" fill="#F862EE" stroke="#4A9176" stroke-width="1.9" stroke-linejoin="miter"/>
<path d="M528.8 360.2L533.9 365.4L528.8 370.5L523.6 365.4Z" fill="#F862EE" stroke="#4A9176" stroke-width="1.9" stroke-linejoin="miter"/>
<rect x="554.75" y="340.75" width="7.5" height="7.5" fill="#63C724" stroke="#4A9176" stroke-width="1.9"/>
<rect x="543.95" y="359.55" width="7.5" height="7.5" fill="#63C724" stroke="#4A9176" stroke-width="1.9"/>
<circle cx="561.9" cy="324.1" r="4.3" fill="#F862EE" stroke="#4A9176" stroke-width="1.9"/>
<circle cx="569.2" cy="324.1" r="4.3" fill="#A68AFB" stroke="#4A9176" stroke-width="1.9"/>
<path d="M558.6 309.1L563.8 314.2L558.6 319.3L553.5 314.2Z" fill="#5AD6A6" stroke="#4A9176" stroke-width="1.9" stroke-linejoin="miter"/>
<circle cx="565.7" cy="309.9" r="4.3" fill="#5BC6EC" stroke="#4A9176" stroke-width="1.9"/>
<path d="M551.3 315.0L556.4 320.1L551.3 325.2L546.1 320.1Z" fill="#63C724" stroke="#4A9176" stroke-width="1.9" stroke-linejoin="miter"/>
<circle cx="565.9" cy="319.3" r="4.3" fill="#5BC6EC" stroke="#4A9176" stroke-width="1.9"/>
<circle cx="582.7" cy="332.1" r="4.3" fill="#F862EE" stroke="#4A9176" stroke-width="1.9"/>
<rect x="574.55" y="312.45" width="7.5" height="7.5" fill="#5BC6EC" stroke="#4A9176" stroke-width="1.9"/>
<rect x="574.95" y="322.15" width="7.5" height="7.5" fill="#5BC6EC" stroke="#4A9176" stroke-width="1.9"/>
<rect x="568.35" y="328.35" width="7.5" height="7.5" fill="#F862EE" stroke="#4A9176" stroke-width="1.9"/>
<path d="M556.1 323.0L561.2 328.1L556.1 333.2L551.0 328.1Z" fill="#5AD6A6" stroke="#4A9176" stroke-width="1.9" stroke-linejoin="miter"/>
<circle cx="563.4" cy="331.4" r="4.3" fill="#5AD6A6" stroke="#4A9176" stroke-width="1.9"/>
<path d="M555.0 331.4L560.1 336.5L555.0 341.6L549.9 336.5Z" fill="#5AD6A6" stroke="#4A9176" stroke-width="1.9" stroke-linejoin="miter"/>
<path d="M549.1 332.1L554.2 337.2L549.1 342.3L544.0 337.2Z" fill="#5BC6EC" stroke="#4A9176" stroke-width="1.9" stroke-linejoin="miter"/>
<circle cx="576.2" cy="350.3" r="4.3" fill="#C79F2E" stroke="#4A9176" stroke-width="1.9"/>
<circle cx="568.7" cy="365.2" r="4.3" fill="#C79F2E" stroke="#4A9176" stroke-width="1.9"/>
<circle cx="560.5" cy="357.0" r="4.3" fill="#5BC6EC" stroke="#4A9176" stroke-width="1.9"/>
<rect x="563.65" y="331.25" width="7.5" height="7.5" fill="#5AD6A6" stroke="#4A9176" stroke-width="1.9"/>
<rect x="571.75" y="336.65" width="7.5" height="7.5" fill="#A68AFB" stroke="#4A9176" stroke-width="1.9"/>
<rect x="568.45" y="342.65" width="7.5" height="7.5" fill="#5AD6A6" stroke="#4A9176" stroke-width="1.9"/>
<circle cx="565.8" cy="341.2" r="4.3" fill="#F27472" stroke="#4A9176" stroke-width="1.9"/>
<path d="M539.4 345.2L544.5 350.3L539.4 355.4L534.2 350.3Z" fill="#63C724" stroke="#4A9176" stroke-width="1.9" stroke-linejoin="miter"/>
<path d="M549.0 353.1L554.1 358.2L549.0 363.3L543.9 358.2Z" fill="#63C724" stroke="#4A9176" stroke-width="1.9" stroke-linejoin="miter"/>
<path d="M543.3 353.5L548.4 358.6L543.3 363.8L538.1 358.6Z" fill="#C79F2E" stroke="#4A9176" stroke-width="1.9" stroke-linejoin="miter"/>
<circle cx="553.8" cy="352.1" r="4.3" fill="#63C724" stroke="#4A9176" stroke-width="1.9"/>
<circle cx="560.2" cy="350.1" r="4.3" fill="#5AD6A6" stroke="#4A9176" stroke-width="1.9"/>
<circle cx="575.3" cy="357.8" r="4.3" fill="#63C724" stroke="#4A9176" stroke-width="1.9"/>
<rect x="557.95" y="359.25" width="7.5" height="7.5" fill="#63C724" stroke="#4A9176" stroke-width="1.9"/>
<path d="M581.4 354.4L586.5 359.5L581.4 364.6L576.2 359.5Z" fill="#A68AFB" stroke="#4A9176" stroke-width="1.9" stroke-linejoin="miter"/>
<path d="M569.6 354.9L574.8 360.0L569.6 365.1L564.5 360.0Z" fill="#A68AFB" stroke="#4A9176" stroke-width="1.9" stroke-linejoin="miter"/>
<rect x="576.75" y="368.05" width="7.5" height="7.5" fill="#F862EE" stroke="#4A9176" stroke-width="1.9"/>
<path d="M586.2 366.7L591.4 371.8L586.2 376.9L581.1 371.8Z" fill="#F862EE" stroke="#4A9176" stroke-width="1.9" stroke-linejoin="miter"/>
<text x="625.3" y="105.8" class="lt">Time</text>
<circle cx="632" cy="120.4" r="4.2" fill="#F27472" stroke="#000" stroke-width="1.8"/>
<text x="645.3" y="123.9" class="ll">1_Days</text>
<circle cx="632" cy="134.6" r="4.2" fill="#C79F2E" stroke="#000" stroke-width="1.8"/>
<text x="645.3" y="138.1" class="ll">13_Days</text>
<circle cx="632" cy="148.7" r="4.2" fill="#63C724" stroke="#000" stroke-width="1.8"/>
<text x="645.3" y="152.2" class="ll">17_Days</text>
<circle cx="632" cy="162.9" r="4.2" fill="#5AD6A6" stroke="#000" stroke-width="1.8"/>
<text x="645.3" y="166.4" class="ll">19_Days</text>
<circle cx="632" cy="177.0" r="4.2" fill="#5BC6EC" stroke="#000" stroke-width="1.8"/>
<text x="645.3" y="180.5" class="ll">3_Days</text>
<circle cx="632" cy="191.2" r="4.2" fill="#A68AFB" stroke="#000" stroke-width="1.8"/>
<text x="645.3" y="194.7" class="ll">7_Days</text>
<circle cx="632" cy="205.4" r="4.2" fill="#F862EE" stroke="#000" stroke-width="1.8"/>
<text x="645.3" y="208.9" class="ll">9_Days</text>
<text x="625.3" y="240.9" class="lt">Tissue</text>
<circle cx="632" cy="254.8" r="4.2" fill="none" stroke="#4A9176" stroke-width="1.8"/>
<text x="645.3" y="258.3" class="ll">carcass</text>
<circle cx="632" cy="269.3" r="4.2" fill="none" stroke="#8C1A5C" stroke-width="1.8"/>
<text x="645.3" y="272.8" class="ll">midgut</text>
<text x="625.3" y="303.8" class="lt">Temp</text>
<circle cx="632" cy="319.0" r="4.2" fill="none" stroke="#000" stroke-width="1.8"/>
<text x="645.3" y="322.5" class="ll">20C</text>
<rect x="627.9" y="328.9" width="8.2" height="8.2" fill="none" stroke="#000" stroke-width="1.8"/>
<text x="645.3" y="336.5" class="ll">24C</text>
<path d="M632 341.6L637.4 347.0L632 352.4L626.6 347.0Z" fill="none" stroke="#000" stroke-width="1.8"/>
<text x="645.3" y="350.5" class="ll">28C</text>
<text x="27.0" y="524.2" class="pl" textLength="25.2" lengthAdjust="spacingAndGlyphs">B.</text>
<line x1="237.5" y1="492.2" x2="237.5" y2="757.0" stroke="#2E2E2E" stroke-width="1.1"/>
<line x1="236.9" y1="756.5" x2="650.3" y2="756.5" stroke="#2E2E2E" stroke-width="1.1"/>
<line x1="234.6" y1="756.5" x2="237.4" y2="756.5" stroke="#333" stroke-width="1"/>
<text x="233" y="759.8" text-anchor="end" class="ut">0</text>
<line x1="234.6" y1="689.1" x2="237.4" y2="689.1" stroke="#333" stroke-width="1"/>
<text x="233" y="692.4" text-anchor="end" class="ut">250</text>
<line x1="234.6" y1="621.8" x2="237.4" y2="621.8" stroke="#333" stroke-width="1"/>
<text x="233" y="625.0" text-anchor="end" class="ut">500</text>
<line x1="234.6" y1="554.4" x2="237.4" y2="554.4" stroke="#333" stroke-width="1"/>
<text x="233" y="557.7" text-anchor="end" class="ut">750</text>
<text transform="translate(161.2 629.7) rotate(-90)" text-anchor="middle" class="is">Intersection Size</text>
<rect x="273.75" y="527.7" width="30.5" height="228.8" fill="#3B3B3B"/>
<text x="289.0" y="520.7" text-anchor="middle" class="bl">849</text>
<rect x="325.35" y="562.5" width="30.5" height="194.0" fill="#3B3B3B"/>
<text x="340.6" y="555.5" text-anchor="middle" class="bl">720</text>
<rect x="376.95" y="635.5" width="30.5" height="121.0" fill="#3B3B3B"/>
<text x="392.2" y="628.5" text-anchor="middle" class="bl">449</text>
<rect x="428.55" y="674.0" width="30.5" height="82.5" fill="#3B3B3B"/>
<text x="443.8" y="667.0" text-anchor="middle" class="bl">306</text>
<rect x="480.15" y="674.6" width="30.5" height="81.9" fill="#3B3B3B"/>
<text x="495.4" y="667.6" text-anchor="middle" class="bl">304</text>
<rect x="531.75" y="680.5" width="30.5" height="76.0" fill="#3B3B3B"/>
<text x="547.0" y="673.5" text-anchor="middle" class="bl">282</text>
<rect x="583.35" y="703.7" width="30.5" height="52.8" fill="#3B3B3B"/>
<text x="598.6" y="696.7" text-anchor="middle" class="bl">196</text>
<rect x="237.3" y="759.9" width="413" height="27.7" fill="#A4C97E"/>
<rect x="237.3" y="787.4" width="413" height="27.7" fill="#DF9498"/>
<rect x="237.3" y="814.9" width="413" height="27.7" fill="#A5FFFE"/>
<circle cx="289.0" cy="773.6" r="2.6" fill="#ffffff" fill-opacity="0.3"/>
<circle cx="289.0" cy="801.1" r="2.6" fill="#ffffff" fill-opacity="0.3"/>
<circle cx="289.0" cy="828.6" r="2.7" fill="#3B3B3B"/>
<circle cx="340.6" cy="773.6" r="2.6" fill="#ffffff" fill-opacity="0.3"/>
<circle cx="340.6" cy="828.6" r="2.6" fill="#ffffff" fill-opacity="0.3"/>
<circle cx="340.6" cy="801.1" r="2.7" fill="#3B3B3B"/>
<line x1="392.2" y1="773.6" x2="392.2" y2="828.6" stroke="#3B3B3B" stroke-width="1.6"/>
<circle cx="392.2" cy="773.6" r="2.7" fill="#3B3B3B"/>
<circle cx="392.2" cy="801.1" r="2.7" fill="#3B3B3B"/>
<circle cx="392.2" cy="828.6" r="2.7" fill="#3B3B3B"/>
<circle cx="443.8" cy="828.6" r="2.6" fill="#ffffff" fill-opacity="0.3"/>
<line x1="443.8" y1="773.6" x2="443.8" y2="801.1" stroke="#3B3B3B" stroke-width="1.6"/>
<circle cx="443.8" cy="773.6" r="2.7" fill="#3B3B3B"/>
<circle cx="443.8" cy="801.1" r="2.7" fill="#3B3B3B"/>
<circle cx="495.4" cy="801.1" r="2.6" fill="#ffffff" fill-opacity="0.3"/>
<line x1="495.4" y1="773.6" x2="495.4" y2="828.6" stroke="#3B3B3B" stroke-width="1.6"/>
<circle cx="495.4" cy="773.6" r="2.7" fill="#3B3B3B"/>
<circle cx="495.4" cy="828.6" r="2.7" fill="#3B3B3B"/>
<circle cx="547.0" cy="801.1" r="2.6" fill="#ffffff" fill-opacity="0.3"/>
<circle cx="547.0" cy="828.6" r="2.6" fill="#ffffff" fill-opacity="0.3"/>
<circle cx="547.0" cy="773.6" r="2.7" fill="#3B3B3B"/>
<circle cx="598.6" cy="773.6" r="2.6" fill="#ffffff" fill-opacity="0.3"/>
<line x1="598.6" y1="801.1" x2="598.6" y2="828.6" stroke="#3B3B3B" stroke-width="1.6"/>
<circle cx="598.6" cy="801.1" r="2.7" fill="#3B3B3B"/>
<circle cx="598.6" cy="828.6" r="2.7" fill="#3B3B3B"/>
<text x="159.8" y="777.5" class="sl">Significant 24C</text>
<rect x="56.7" y="767.8" width="95.3" height="11.8" fill="#3B3B3B"/>
<text x="159.8" y="805.0" class="sl">Significant 28C</text>
<rect x="33.3" y="795.2" width="118.7" height="11.8" fill="#3B3B3B"/>
<text x="159.8" y="832.5" class="sl">Significant 20C</text>
<rect x="24.7" y="822.8" width="127.3" height="11.8" fill="#3B3B3B"/>
<line x1="18.9" y1="842.5" x2="157.6" y2="842.5" stroke="#2E2E2E" stroke-width="1.1"/>
<line x1="151.9" y1="842.5" x2="151.9" y2="845.5" stroke="#333" stroke-width="1"/>
<text x="151.9" y="854.7" text-anchor="middle" class="ut">0</text>
<line x1="116.7" y1="842.5" x2="116.7" y2="845.5" stroke="#333" stroke-width="1"/>
<text x="116.7" y="854.7" text-anchor="middle" class="ut">500</text>
<line x1="81.5" y1="842.5" x2="81.5" y2="845.5" stroke="#333" stroke-width="1"/>
<text x="81.5" y="854.7" text-anchor="middle" class="ut">1000</text>
<line x1="46.3" y1="842.5" x2="46.3" y2="845.5" stroke="#333" stroke-width="1"/>
<text x="46.3" y="854.7" text-anchor="middle" class="ut">1500</text>
<text x="88.2" y="869.1" text-anchor="middle" class="ss">Set Size</text>
<text x="27.0" y="962.4" class="pl" textLength="25.2" lengthAdjust="spacingAndGlyphs">C.</text>
<line x1="237.5" y1="929.8" x2="237.5" y2="1194.5" stroke="#2E2E2E" stroke-width="1.1"/>
<line x1="236.9" y1="1194.0" x2="650.3" y2="1194.0" stroke="#2E2E2E" stroke-width="1.1"/>
<line x1="234.6" y1="1194.0" x2="237.4" y2="1194.0" stroke="#333" stroke-width="1"/>
<text x="233" y="1197.3" text-anchor="end" class="ut">0</text>
<line x1="234.6" y1="1100.4" x2="237.4" y2="1100.4" stroke="#333" stroke-width="1"/>
<text x="233" y="1103.7" text-anchor="end" class="ut">500</text>
<line x1="234.6" y1="1006.8" x2="237.4" y2="1006.8" stroke="#333" stroke-width="1"/>
<text x="233" y="1010.1" text-anchor="end" class="ut">1000</text>
<text transform="translate(161.2 1068.0) rotate(-90)" text-anchor="middle" class="is">Intersection Size</text>
<rect x="273.75" y="965.1" width="30.5" height="228.9" fill="#3B3B3B"/>
<text x="289.0" y="958.1" text-anchor="middle" class="bl">1223</text>
<rect x="325.35" y="1025.2" width="30.5" height="168.8" fill="#3B3B3B"/>
<text x="340.6" y="1018.2" text-anchor="middle" class="bl">902</text>
<rect x="376.95" y="1103.2" width="30.5" height="90.8" fill="#3B3B3B"/>
<text x="392.2" y="1096.2" text-anchor="middle" class="bl">485</text>
<rect x="428.55" y="1107.2" width="30.5" height="86.8" fill="#3B3B3B"/>
<text x="443.8" y="1100.2" text-anchor="middle" class="bl">464</text>
<rect x="480.15" y="1156.6" width="30.5" height="37.4" fill="#3B3B3B"/>
<text x="495.4" y="1149.6" text-anchor="middle" class="bl">200</text>
<rect x="531.75" y="1161.8" width="30.5" height="32.2" fill="#3B3B3B"/>
<text x="547.0" y="1154.8" text-anchor="middle" class="bl">172</text>
<rect x="583.35" y="1167.0" width="30.5" height="27.0" fill="#3B3B3B"/>
<text x="598.6" y="1160.0" text-anchor="middle" class="bl">144</text>
<rect x="237.3" y="1197.4" width="413" height="27.7" fill="#A4C97E"/>
<rect x="237.3" y="1224.9" width="413" height="27.7" fill="#DF9498"/>
<rect x="237.3" y="1252.4" width="413" height="27.7" fill="#A5FFFE"/>
<circle cx="289.0" cy="1211.2" r="2.6" fill="#ffffff" fill-opacity="0.3"/>
<circle cx="289.0" cy="1238.7" r="2.6" fill="#ffffff" fill-opacity="0.3"/>
<circle cx="289.0" cy="1266.2" r="2.7" fill="#3B3B3B"/>
<line x1="340.6" y1="1211.2" x2="340.6" y2="1266.2" stroke="#3B3B3B" stroke-width="1.6"/>
<circle cx="340.6" cy="1211.2" r="2.7" fill="#3B3B3B"/>
<circle cx="340.6" cy="1238.7" r="2.7" fill="#3B3B3B"/>
<circle cx="340.6" cy="1266.2" r="2.7" fill="#3B3B3B"/>
<circle cx="392.2" cy="1211.2" r="2.6" fill="#ffffff" fill-opacity="0.3"/>
<line x1="392.2" y1="1238.7" x2="392.2" y2="1266.2" stroke="#3B3B3B" stroke-width="1.6"/>
<circle cx="392.2" cy="1238.7" r="2.7" fill="#3B3B3B"/>
<circle cx="392.2" cy="1266.2" r="2.7" fill="#3B3B3B"/>
<circle cx="443.8" cy="1211.2" r="2.6" fill="#ffffff" fill-opacity="0.3"/>
<circle cx="443.8" cy="1266.2" r="2.6" fill="#ffffff" fill-opacity="0.3"/>
<circle cx="443.8" cy="1238.7" r="2.7" fill="#3B3B3B"/>
<circle cx="495.4" cy="1238.7" r="2.6" fill="#ffffff" fill-opacity="0.3"/>
<line x1="495.4" y1="1211.2" x2="495.4" y2="1266.2" stroke="#3B3B3B" stroke-width="1.6"/>
<circle cx="495.4" cy="1211.2" r="2.7" fill="#3B3B3B"/>
<circle cx="495.4" cy="1266.2" r="2.7" fill="#3B3B3B"/>
<circle cx="547.0" cy="1238.7" r="2.6" fill="#ffffff" fill-opacity="0.3"/>
<circle cx="547.0" cy="1266.2" r="2.6" fill="#ffffff" fill-opacity="0.3"/>
<circle cx="547.0" cy="1211.2" r="2.7" fill="#3B3B3B"/>
<circle cx="598.6" cy="1266.2" r="2.6" fill="#ffffff" fill-opacity="0.3"/>
<line x1="598.6" y1="1211.2" x2="598.6" y2="1238.7" stroke="#3B3B3B" stroke-width="1.6"/>
<circle cx="598.6" cy="1211.2" r="2.7" fill="#3B3B3B"/>
<circle cx="598.6" cy="1238.7" r="2.7" fill="#3B3B3B"/>
<text x="159.8" y="1215.1" class="sl">Significant 24C</text>
<rect x="87.4" y="1205.2" width="64.6" height="11.8" fill="#3B3B3B"/>
<text x="159.8" y="1242.6" class="sl">Significant 28C</text>
<rect x="61.2" y="1232.8" width="90.8" height="11.8" fill="#3B3B3B"/>
<text x="159.8" y="1270.1" class="sl">Significant 20C</text>
<rect x="24.7" y="1260.2" width="127.3" height="11.8" fill="#3B3B3B"/>
<line x1="18.9" y1="1280.5" x2="157.6" y2="1280.5" stroke="#2E2E2E" stroke-width="1.1"/>
<line x1="151.9" y1="1280.5" x2="151.9" y2="1283.5" stroke="#333" stroke-width="1"/>
<text x="151.9" y="1292.7" text-anchor="middle" class="ut">0</text>
<line x1="106.7" y1="1280.5" x2="106.7" y2="1283.5" stroke="#333" stroke-width="1"/>
<text x="106.7" y="1292.7" text-anchor="middle" class="ut">1000</text>
<line x1="61.5" y1="1280.5" x2="61.5" y2="1283.5" stroke="#333" stroke-width="1"/>
<text x="61.5" y="1292.7" text-anchor="middle" class="ut">2000</text>
<text x="88.2" y="1307.1" text-anchor="middle" class="ss">Set Size</text></g></g>
</svg>
</div></body></html>
